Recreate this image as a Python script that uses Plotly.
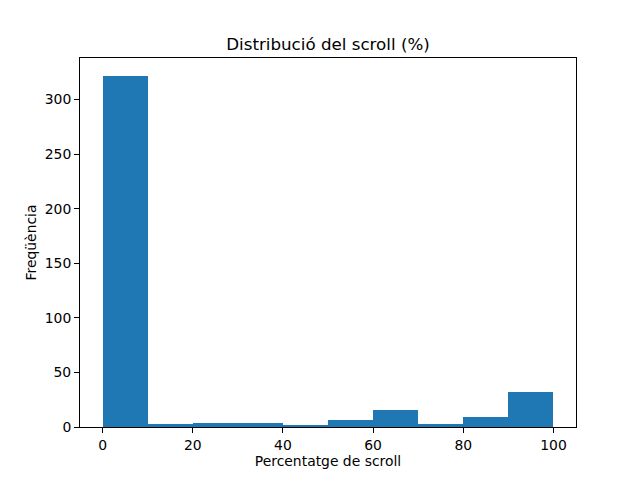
import plotly.graph_objects as go

bin_edges = [0, 10, 20, 30, 40, 50, 60, 70, 80, 90, 100]
counts = [322, 3, 4, 4, 2, 6, 16, 3, 9, 32]
x_ticks = [0, 20, 40, 60, 80, 100]
y_ticks = [0, 50, 100, 150, 200, 250, 300]

centers = [(bin_edges[i] + bin_edges[i + 1]) / 2 for i in range(len(counts))]
widths = [bin_edges[i + 1] - bin_edges[i] for i in range(len(counts))]

fig = go.Figure(go.Bar(x=centers, y=counts, width=widths,
                       marker=dict(color="#1f77b4", line=dict(width=0))))

font = dict(family="DejaVu Sans", size=13.9, color="black")
axis_common = dict(showline=True, linecolor="black", linewidth=1, mirror=True,
                   ticks="outside", ticklen=5, tickwidth=1, tickcolor="black",
                   showgrid=False, zeroline=False, tickfont=font)

fig.update_layout(
    width=640, height=480,
    margin=dict(l=72, r=72, t=50, b=61),
    paper_bgcolor="white", plot_bgcolor="white",
    font=font,
    title=dict(text="Distribució del scroll (%)", x=0.5, xref="paper",
               y=1, yref="paper", yanchor="bottom", pad=dict(b=8),
               font=dict(family="DejaVu Sans", size=16.7, color="black")),
    xaxis=dict(range=[-5, 105], tickvals=x_ticks,
               title=dict(text="Percentatge de scroll", font=font, standoff=3),
               **axis_common),
    yaxis=dict(range=[0, 338.1], tickvals=y_ticks,
               title=dict(text="Freqüència", font=font, standoff=4),
               **axis_common),
    bargap=0, showlegend=False,
)

fig.write_html("out.html")
